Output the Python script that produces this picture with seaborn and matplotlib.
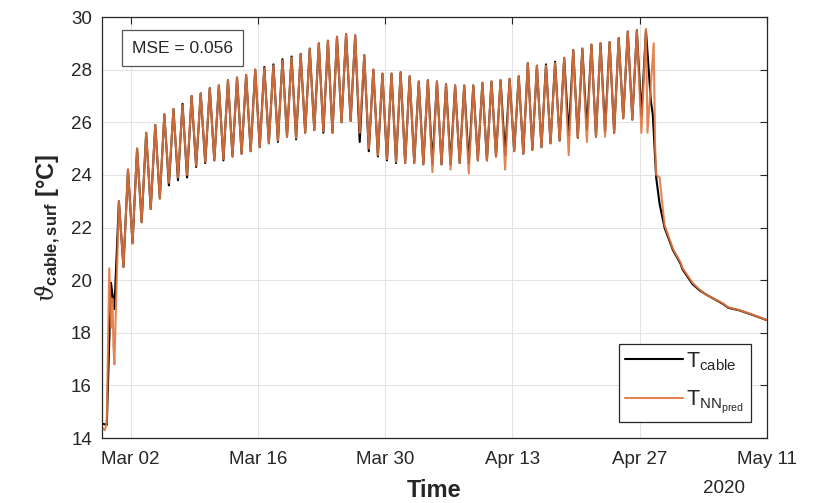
import matplotlib
matplotlib.use("Agg")
import matplotlib.pyplot as plt
import matplotlib.dates as mdates
import numpy as np
import pandas as pd
import seaborn as sns

# ---------------------------------------------------------------------------
# Measured cable surface temperature and neural-network prediction [°C]
# Daily cycle: one afternoon maximum and one early-morning minimum per day.
# ---------------------------------------------------------------------------
first_peak_day = "2020-02-29"
peak_hour = 17
trough_hour = 5

# start-up phase before the regular daily cycle
cable_start_times = ["2020-02-27 19:30", "2020-02-28 09:00", "2020-02-28 20:00",
                     "2020-02-29 05:00"]
cable_start_vals = [14.55, 14.5, 19.9, 18.9]

pred_start_times = ["2020-02-27 19:30", "2020-02-28 04:00", "2020-02-28 09:00",
                    "2020-02-28 15:30", "2020-02-28 21:00", "2020-02-29 00:00",
                    "2020-02-29 02:30", "2020-02-29 05:00"]
pred_start_vals = [14.4, 14.3, 14.6, 20.45, 18.2, 19.3, 17.5, 16.8]

# daily maxima, Feb 29 .. Apr 27
cable_peaks = [23.0,
               24.2, 25.0, 25.6, 25.9, 26.3, 26.5, 26.7, 27.0, 27.1, 27.3,
               27.4, 27.6, 27.7, 27.8, 28.0, 28.1, 28.2, 28.4, 28.5, 28.6,
               28.8, 29.0, 29.1, 29.25, 29.35, 29.3, 28.55, 28.0, 27.85, 27.85,
               27.9,
               27.75, 27.55, 27.6, 27.55, 27.45, 27.4, 27.4, 27.4, 27.5, 27.55,
               27.6, 27.65, 27.75, 28.25, 28.15, 28.2, 28.3, 28.45, 28.75, 28.8,
               28.95, 29.0, 29.05, 29.2, 29.45, 29.5, 29.5]
pred_peaks = [23.0,
              24.2, 25.0, 25.6, 25.9, 26.3, 26.5, 26.65, 27.0, 27.1, 27.3,
              27.4, 27.6, 27.7, 27.8, 28.0, 28.05, 28.15, 28.35, 28.45, 28.6,
              28.8, 29.0, 29.1, 29.25, 29.35, 29.3, 28.55, 28.0, 27.85, 27.85,
              27.9,
              27.75, 27.55, 27.6, 27.55, 27.45, 27.4, 27.4, 27.4, 27.5, 27.55,
              27.6, 27.65, 27.75, 28.25, 28.15, 28.15, 28.25, 28.45, 28.75, 28.8,
              28.95, 29.0, 29.05, 29.2, 29.45, 29.5, 29.55]

# daily minima following each maximum, Mar 01 .. Apr 27 (early morning)
cable_troughs = [20.5,
                 21.4, 22.2, 22.7, 23.1, 23.6, 23.8, 23.9, 24.3, 24.45, 24.55,
                 24.55, 24.7, 24.8, 24.9, 25.05, 25.2, 25.25, 25.45, 25.35, 25.6,
                 25.7, 25.6, 25.6, 26.0, 26.05, 25.25, 24.9, 24.7, 24.55, 24.45,
                 24.45,
                 24.45, 24.4, 24.4, 24.4, 24.4, 24.45, 24.45, 24.55, 24.55, 24.7,
                 24.75, 24.9, 24.8, 24.95, 25.05, 25.2, 25.3, 25.5, 25.4, 25.7,
                 25.45, 25.65, 25.6, 26.15, 26.1, 26.25]
pred_troughs = [20.5,
                21.4, 22.2, 22.7, 23.1, 23.7, 23.9, 24.0, 24.35, 24.5, 24.55,
                24.6, 24.7, 24.8, 24.9, 25.05, 25.2, 25.3, 25.45, 25.4, 25.6,
                25.7, 25.65, 25.6, 26.0, 26.05, 25.6, 25.0, 24.75, 24.6, 24.5,
                24.45,
                24.45, 24.4, 24.1, 24.4, 24.2, 24.45, 24.05, 24.55, 24.55, 24.7,
                24.2, 24.9, 24.8, 24.95, 25.05, 25.2, 25.3, 24.75, 25.4, 25.25,
                25.45, 25.45, 25.6, 26.15, 26.1, 25.6]

# cooling phase after the load is switched off
cable_tail_times = ["2020-04-28 06:00", "2020-04-28 11:00", "2020-04-28 15:30",
                    "2020-04-28 20:00", "2020-04-29 05:00", "2020-04-29 18:00",
                    "2020-04-30 16:00", "2020-05-01 12:00", "2020-05-01 18:00",
                    "2020-05-02 20:00", "2020-05-03 14:00", "2020-05-04 08:00",
                    "2020-05-06 04:00", "2020-05-06 18:00", "2020-05-08 00:00",
                    "2020-05-09 20:00", "2020-05-11 00:00"]
cable_tail_vals = [26.8, 26.3, 25.1, 23.9, 22.9, 22.0, 21.15, 20.63, 20.4, 19.85,
                   19.62, 19.45, 19.1, 18.95, 18.85, 18.63, 18.48]

pred_tail_times = ["2020-04-27 21:00", "2020-04-28 13:30", "2020-04-28 17:00",
                   "2020-04-28 20:00", "2020-04-29 05:00", "2020-04-29 18:00",
                   "2020-04-30 16:00", "2020-05-01 12:00", "2020-05-01 18:00",
                   "2020-05-02 20:00", "2020-05-03 14:00", "2020-05-04 08:00",
                   "2020-05-06 04:00", "2020-05-06 18:00", "2020-05-08 00:00",
                   "2020-05-09 20:00", "2020-05-11 00:00"]
pred_tail_vals = [25.6, 29.0, 25.2, 24.0, 23.9, 22.1, 21.2, 20.68, 20.45, 19.9,
                  19.65, 19.45, 19.12, 18.97, 18.86, 18.64, 18.48]

mse_text = "MSE = 0.056"
x_tick_dates = ["2020-03-02", "2020-03-16", "2020-03-30", "2020-04-13",
                "2020-04-27", "2020-05-11"]
y_ticks = [14, 16, 18, 20, 22, 24, 26, 28, 30]
x_range = ("2020-02-27 19:30", "2020-05-11 00:00")


def daily_series(start_times, start_vals, peaks, troughs, tail_times, tail_vals):
    day0 = pd.Timestamp(first_peak_day)
    times = [pd.Timestamp(s) for s in start_times]
    vals = list(start_vals)
    for i, p in enumerate(peaks):
        times.append(day0 + pd.Timedelta(days=i, hours=peak_hour))
        vals.append(p)
        if i < len(troughs):
            times.append(day0 + pd.Timedelta(days=i + 1, hours=trough_hour))
            vals.append(troughs[i])
    times += [pd.Timestamp(s) for s in tail_times]
    vals += list(tail_vals)
    return pd.DataFrame({"time": times, "temp": vals})


cable = daily_series(cable_start_times, cable_start_vals, cable_peaks,
                     cable_troughs, cable_tail_times, cable_tail_vals)
pred = daily_series(pred_start_times, pred_start_vals, pred_peaks,
                    pred_troughs, pred_tail_times, pred_tail_vals)

sns.set_style("white")
plt.rcParams["font.family"] = ["Liberation Sans", "DejaVu Sans"]
plt.rcParams["mathtext.fontset"] = "custom"
plt.rcParams["mathtext.rm"] = "Liberation Sans"
plt.rcParams["mathtext.bf"] = "Liberation Sans:bold"
plt.rcParams["mathtext.it"] = "DejaVu Serif:italic"

ink = "#262626"
orange = "#E2773F"

fig = plt.figure(figsize=(8.24, 5.03), dpi=100)
ax = fig.add_axes([0.1234, 0.1292, 0.8071, 0.8370])

sns.lineplot(data=cable, x="time", y="temp", ax=ax, color="black", lw=1.5,
             estimator=None, sort=False, label=r"$\mathregular{T_{cable}}$")
sns.lineplot(data=pred, x="time", y="temp", ax=ax, color=orange, lw=1.5,
             alpha=0.9, estimator=None, sort=False,
             label=r"$\mathregular{T_{NN_{pred}}}$")

ax.set_xlim(pd.Timestamp(x_range[0]), pd.Timestamp(x_range[1]))
ax.set_ylim(y_ticks[0], y_ticks[-1])
ax.set_yticks(y_ticks)
ax.set_xticks([pd.Timestamp(d) for d in x_tick_dates])
ax.xaxis.set_major_formatter(mdates.DateFormatter("%b %d"))

ax.grid(True, color="#e3e3e3", lw=0.8)
ax.set_axisbelow(True)
for sp in ax.spines.values():
    sp.set_color(ink)
    sp.set_linewidth(0.9)
ax.tick_params(direction="in", top=True, right=True, length=5, width=0.8,
               colors=ink, labelsize=13.5)
ax.tick_params(axis="x", pad=9)
ax.tick_params(axis="y", pad=7)

ax.set_xlabel("Time", fontsize=17, fontweight="bold", color=ink, labelpad=8)
ax.set_ylabel(r"$\vartheta_{\mathbf{cable,surf}}$ [°C]", fontsize=17,
              fontweight="bold", color=ink, labelpad=6)

ax.text(0.936, -0.121, "2020", transform=ax.transAxes, ha="center",
        va="center", fontsize=13.5, color=ink)

ax.text(0.1215, 0.926, mse_text, transform=ax.transAxes, ha="center",
        va="center", fontsize=12.5, color=ink,
        bbox=dict(boxstyle="square,pad=0.6", fc="white", ec="#555555", lw=0.9))

leg = ax.legend(loc="lower right", fontsize=15.5, frameon=True, fancybox=False,
                framealpha=1, edgecolor=ink, handlelength=2.7,
                handletextpad=0.15, borderpad=0.3, labelspacing=0.75,
                borderaxespad=0.75)
leg.get_frame().set_linewidth(0.9)

fig.savefig("out.png", dpi=100)
